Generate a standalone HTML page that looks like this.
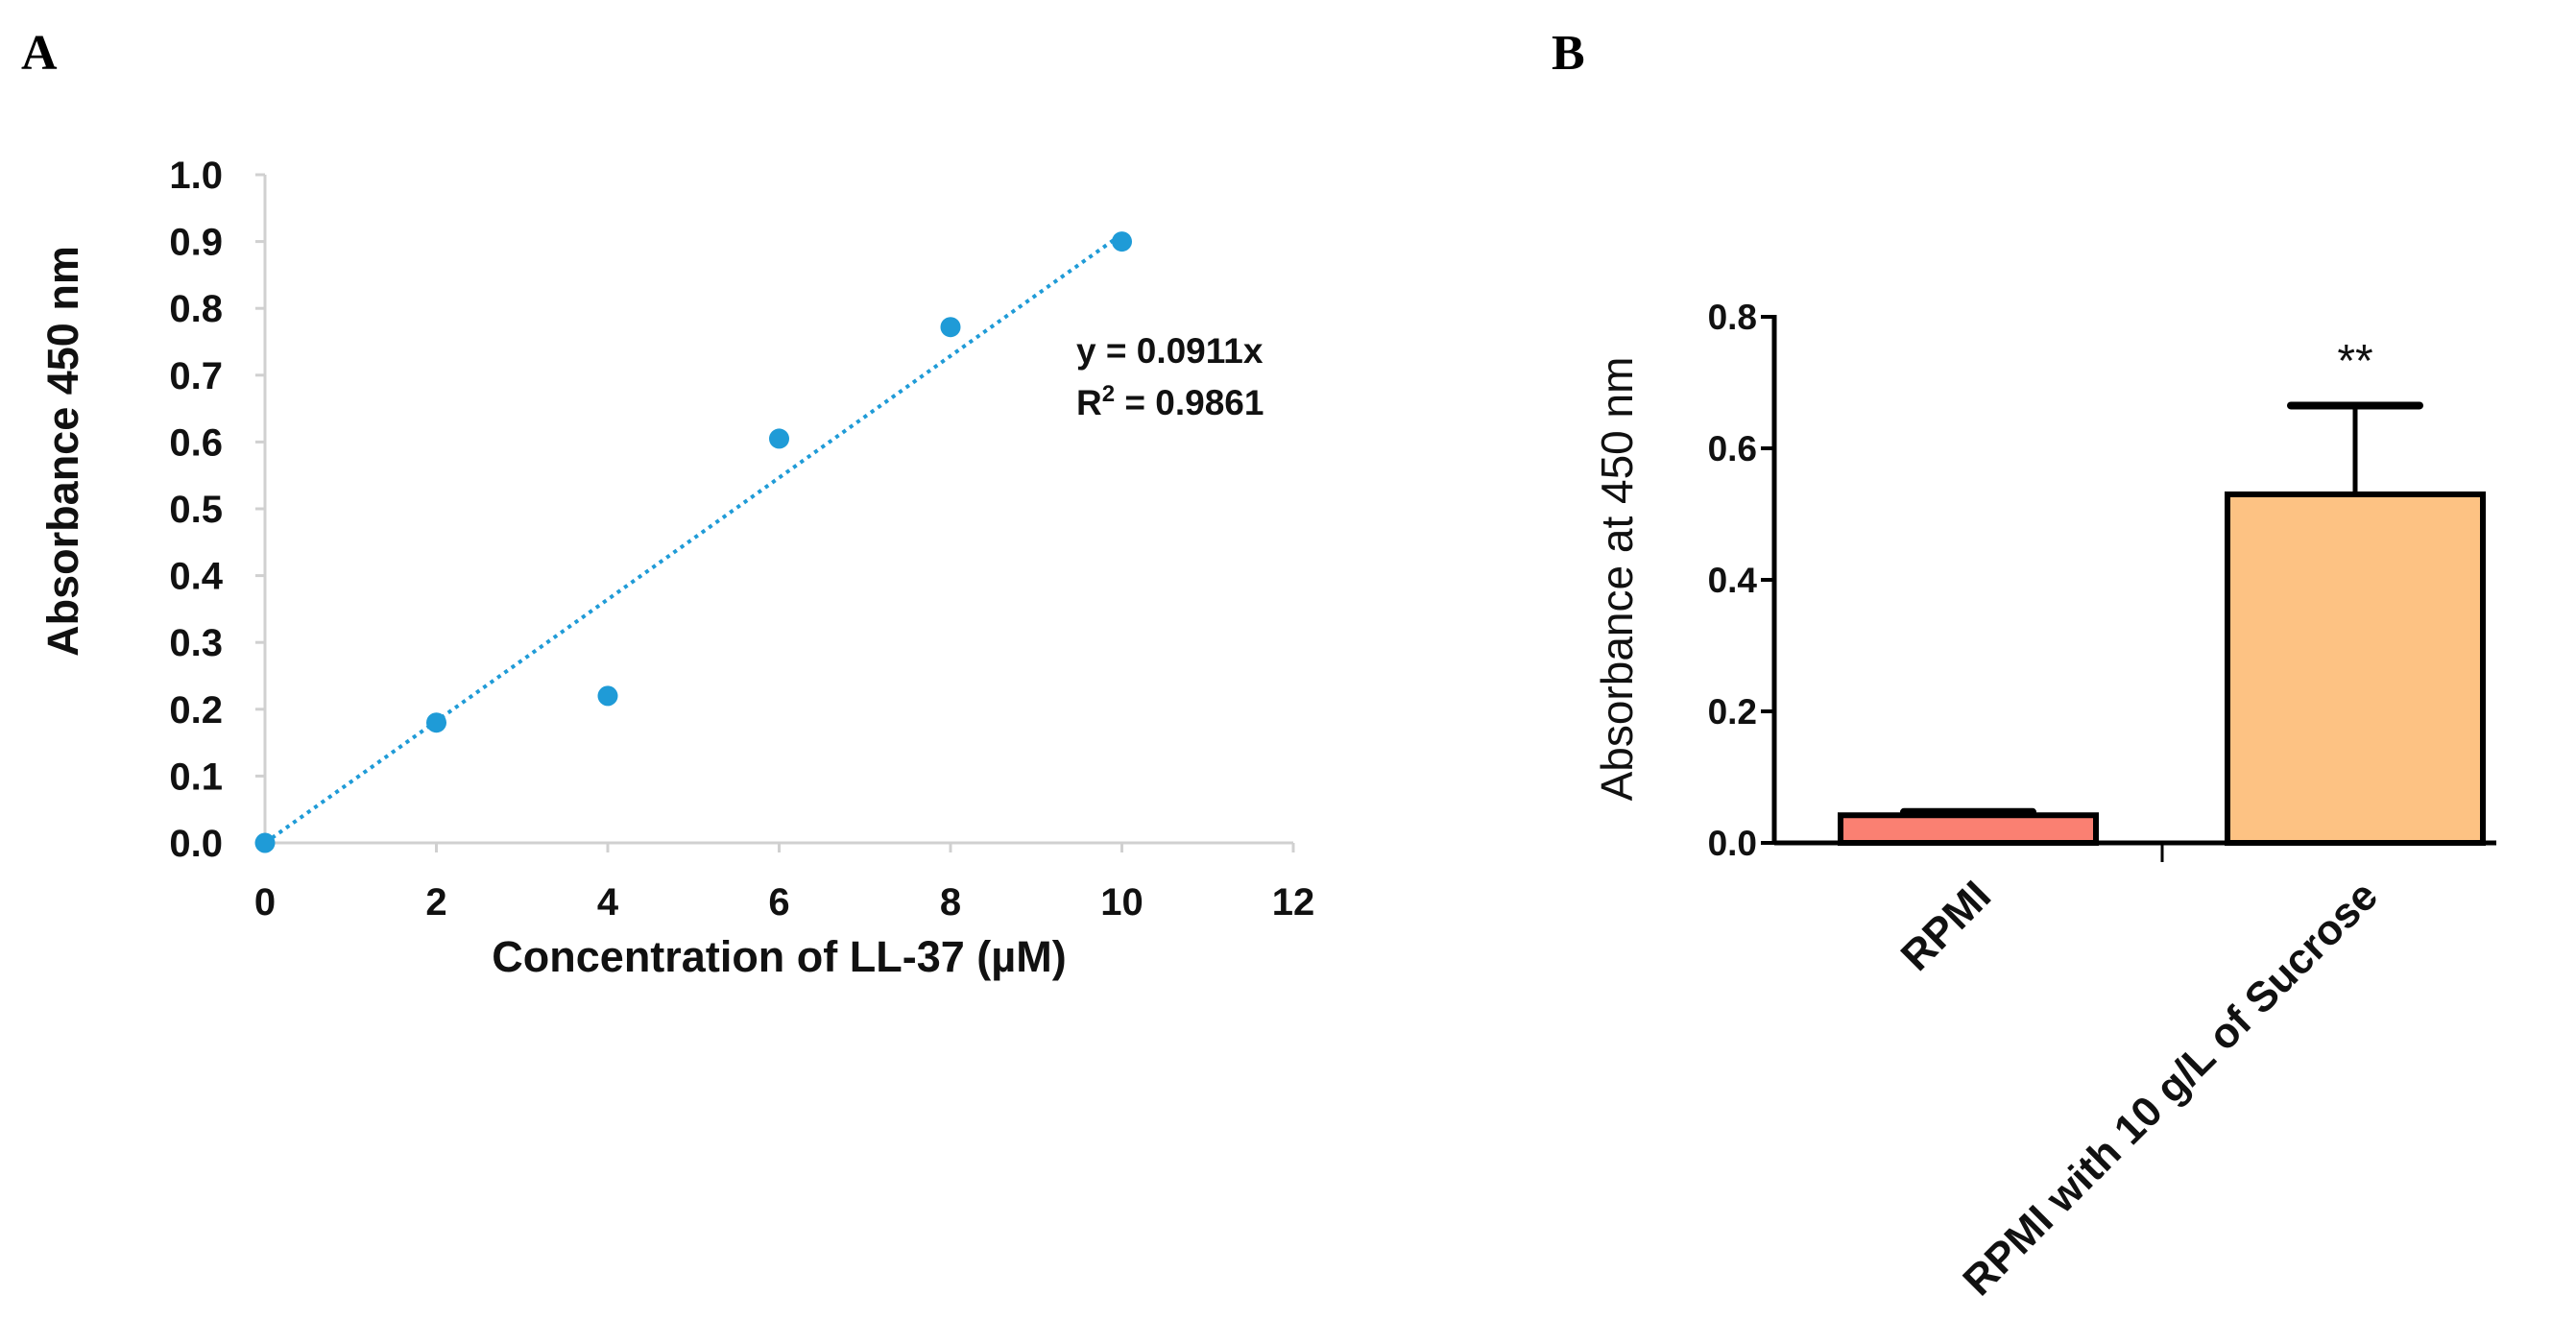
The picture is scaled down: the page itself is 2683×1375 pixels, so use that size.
<!DOCTYPE html>
<html><head><meta charset="utf-8"><style>
body{margin:0;background:#fff;}
svg{display:block;font-family:"Liberation Sans",Arial,sans-serif;}
</style></head><body>
<svg id="fig" width="2683" height="1375" viewBox="0 0 2683 1375">
<text x="22" y="72" font-family="Liberation Serif" font-weight="bold" font-size="52">A</text>
<text x="1616" y="72" font-family="Liberation Serif" font-weight="bold" font-size="52">B</text>
<g id="chartA"></g>
<g id="chartB"></g>
</svg>
<script>
const xValsA=[0,2,4,6,8,10];
const yValsA=[0,0.18,0.22,0.605,0.772,0.9];
const slopeA=[0.0911];
const xTicksA=[0,2,4,6,8,10,12];
const yTicksA=[0,0.1,0.2,0.3,0.4,0.5,0.6,0.7,0.8,0.9,1.0];
const catsB=["RPMI","RPMI with 10 g/L of Sucrose"];
const valsB=[0.042,0.53];
const errB=[0.005,0.135];
const yTicksB=[0,0.2,0.4,0.6,0.8];
const NS="http://www.w3.org/2000/svg";
function mk(p,t,a){const e=document.createElementNS(NS,t);for(const k in a)e.setAttribute(k,a[k]);p.appendChild(e);return e;}
// Chart A
const gA=document.getElementById('chartA');
const ax=v=>276+v/12*(1347-276), ay=v=>878-v/1.0*(878-182);
let e=mk(gA,'line',{x1:ax(0),y1:ay(0),x2:ax(12),y2:ay(0),stroke:'#d0d0d0','stroke-width':3});

e=mk(gA,'line',{x1:ax(0),y1:ay(0),x2:ax(0),y2:ay(1),stroke:'#d0d0d0','stroke-width':3});

yTicksA.forEach(v=>{
 mk(gA,'line',{x1:ax(0)-10,y1:ay(v),x2:ax(0),y2:ay(v),stroke:'#d0d0d0','stroke-width':3});
 const t=mk(gA,'text',{x:232,y:ay(v)+14,'text-anchor':'end','font-size':40,'font-weight':'bold',fill:'#111'});
 t.textContent=v.toFixed(1);
 
});
xTicksA.forEach(v=>{
 mk(gA,'line',{x1:ax(v),y1:ay(0),x2:ax(v),y2:ay(0)+10,stroke:'#d0d0d0','stroke-width':3});
 const t=mk(gA,'text',{x:ax(v),y:953,'text-anchor':'middle','font-size':40,'font-weight':'bold',fill:'#111'});
 t.textContent=v;
 
});
e=mk(gA,'text',{x:ax(6),y:1012,'text-anchor':'middle','font-size':45,'font-weight':'bold',fill:'#111'});
e.textContent='Concentration of LL-37 (µM)';

e=mk(gA,'text',{x:0,y:0,'text-anchor':'middle','font-size':45,'font-weight':'bold',fill:'#111',transform:`translate(81,470) rotate(-90)`});
e.textContent='Absorbance  450 nm';

e=mk(gA,'line',{x1:ax(0),y1:ay(0),x2:ax(10),y2:ay(slopeA[0]*10),stroke:'#1f9bd7','stroke-width':4,'stroke-dasharray':'4 5'});

xValsA.forEach((x,i)=>{
 const c=mk(gA,'circle',{cx:ax(x),cy:ay(yValsA[i]),r:10.5,fill:'#1f9bd7'});
 
});
e=mk(gA,'text',{x:1121,y:378,'font-size':37,'font-weight':'bold',fill:'#111'});
e.textContent='y = '+slopeA[0]+'x';

e=mk(gA,'text',{x:1121,y:432,'font-size':37,'font-weight':'bold',fill:'#111'});
e.innerHTML='R<tspan font-size="24" dy="-14">2</tspan><tspan dy="14"> = 0.9861</tspan>';

// Chart B
const gB=document.getElementById('chartB');
const by=v=>878-v/0.8*(878-330);
const centers=[2050,2453], bw=266;
e=mk(gB,'line',{x1:1848,y1:by(0),x2:2600,y2:by(0),stroke:'#000','stroke-width':5});

e=mk(gB,'line',{x1:1848,y1:by(0)+2,x2:1848,y2:by(0.8)-2,stroke:'#000','stroke-width':5});

mk(gB,'line',{x1:2252,y1:by(0),x2:2252,y2:by(0)+20,stroke:'#000','stroke-width':3});
yTicksB.forEach(v=>{
 mk(gB,'line',{x1:1834,y1:by(v),x2:1848,y2:by(v),stroke:'#000','stroke-width':4});
 const t=mk(gB,'text',{x:1830,y:by(v)+13,'text-anchor':'end','font-size':37,'font-weight':'bold',fill:'#111'});
 t.textContent=v.toFixed(1);
 
});
e=mk(gB,'text',{x:0,y:0,'text-anchor':'middle','font-size':46,fill:'#111',transform:`translate(1700,603) rotate(-90)`});
e.textContent='Absorbance at 450 nm';

const fills=['#fa8072','#fdc283'];
catsB.forEach((c,i)=>{
 const cx=centers[i],top=by(valsB[i]+errB[i]);
 mk(gB,'line',{x1:cx,y1:by(valsB[i]),x2:cx,y2:top,stroke:'#000','stroke-width':5});
 mk(gB,'line',{x1:cx-67,y1:top,x2:cx+67,y2:top,stroke:'#000','stroke-width':8,'stroke-linecap':'round'});
 const r=mk(gB,'rect',{x:cx-bw/2,y:by(valsB[i]),width:bw,height:by(0)-by(valsB[i]),fill:fills[i],stroke:'#000','stroke-width':6});
 
 const t=mk(gB,'text',{x:0,y:0,'text-anchor':'end','font-size':44,'font-weight':'bold',fill:'#111',transform:`translate(${cx+26},${by(0)+58}) rotate(-45)`});
 t.textContent=c;
 
});
e=mk(gB,'text',{x:centers[1],y:by(0.8)+62,'text-anchor':'middle','font-size':48,fill:'#111'});
e.textContent='**';

</script>
</body></html>
